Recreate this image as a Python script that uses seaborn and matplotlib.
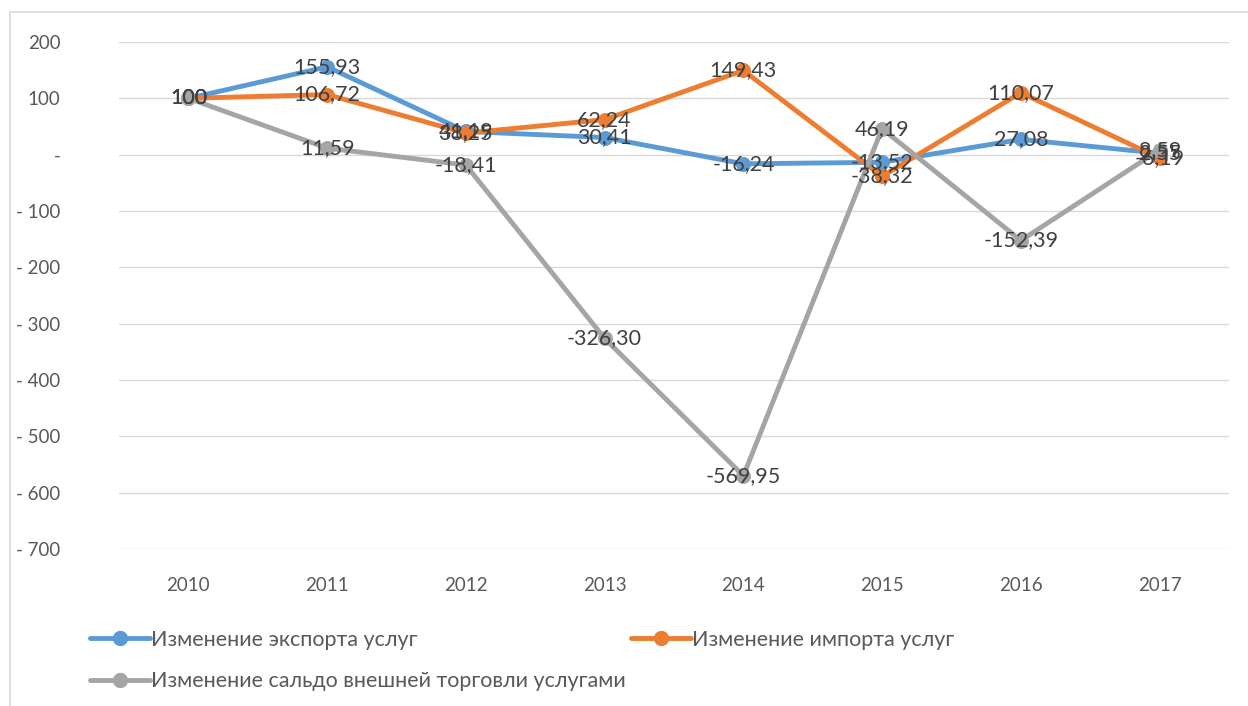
import matplotlib
matplotlib.use("Agg")
import matplotlib.pyplot as plt
import seaborn as sns
import pandas as pd
from matplotlib.lines import Line2D

# data
years = ["2010", "2011", "2012", "2013", "2014", "2015", "2016", "2017"]
export_chg = [100, 155.93, 41.19, 30.41, -16.24, -13.52, 27.08, 2.55]
import_chg = [100, 106.72, 38.25, 62.24, 149.43, -38.32, 110.07, -6.19]
balance_chg = [100, 11.59, -18.41, -326.30, -569.95, 46.19, -152.39, 8.59]

names = ["Изменение экспорта услуг",
         "Изменение импорта услуг",
         "Изменение сальдо внешней торговли услугами"]
colors = ["#5B9BD5", "#ED7D31", "#A5A5A5"]

df = pd.DataFrame({"x": list(range(len(years))) * 3,
                   "value": export_chg + import_chg + balance_chg,
                   "series": [n for n in names for _ in years]})

sns.set_style("white")
plt.rcParams["font.family"] = ["Lato", "DejaVu Sans"]

fig = plt.figure(figsize=(12.48, 7.06), dpi=100)
ax = fig.add_axes([119 / 1248, 1 - 549 / 706, (1229 - 119) / 1248, (549 - 42) / 706])

for name, col in zip(names, colors):
    sub = df[df["series"] == name]
    sns.lineplot(data=sub, x="x", y="value", ax=ax, color=col, lw=3.5,
                 marker="o", markersize=10, markeredgecolor=col, legend=False,
                 zorder=3)


def fmt(v):
    if float(v).is_integer():
        return str(int(v))
    return f"{v:.2f}".replace(".", ",")


for name in names:
    sub = df[df["series"] == name]
    for x, v in zip(sub["x"], sub["value"]):
        ax.text(x, v, fmt(v), ha="center", va="center", fontsize=15.5,
                color="#404040", zorder=5)

ax.set_xlim(-0.5, len(years) - 0.5)
ax.set_ylim(-700, 200)
ax.set_yticks(range(-700, 201, 100))
ax.set_yticklabels([("- " + str(abs(t))) if t < 0 else ("-" if t == 0 else str(t))
                    for t in range(-700, 201, 100)])
ax.set_xticks(range(len(years)))
ax.set_xticklabels(years)
ax.tick_params(axis="y", length=0, pad=42, labelsize=13.5, labelcolor="#595959")
ax.tick_params(axis="x", length=0, pad=20, labelsize=13.5, labelcolor="#595959")
ax.grid(axis="y", color="#d9d9d9", lw=1)
ax.set_axisbelow(True)
for s in ax.spines.values():
    s.set_visible(False)
ax.set_xlabel("")
ax.set_ylabel("")

# chart frame (left and top edges visible)
fig.add_artist(Line2D([10 / 1248, 10 / 1248], [0, 1 - 12 / 706], color="#d9d9d9", lw=1.2))
fig.add_artist(Line2D([10 / 1248, 1], [1 - 12 / 706, 1 - 12 / 706], color="#d9d9d9", lw=1.2))

handles = [Line2D([], [], color=c, lw=3.5, marker="o", markersize=10) for c in colors]
order = [0, 2, 1]
fig.legend([handles[i] for i in order], [names[i] for i in order],
           loc="upper left", bbox_to_anchor=(81 / 1248, 1 - 621 / 706), ncol=2,
           frameon=False, fontsize=15.5, labelcolor="#595959", handlelength=2.8,
           handletextpad=0.05, columnspacing=0.25, labelspacing=1.0,
           borderaxespad=0)

fig.savefig("out.png", dpi=100)
